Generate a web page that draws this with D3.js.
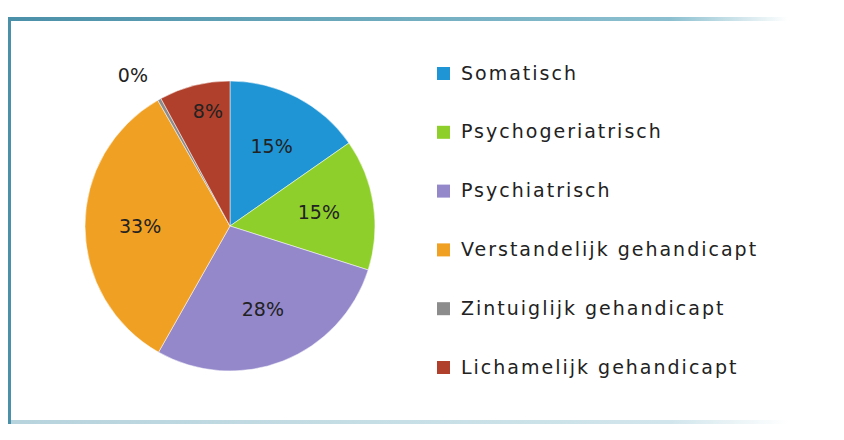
<!DOCTYPE html>
<html><head><meta charset="utf-8">
<script src="https://cdn.jsdelivr.net/npm/d3@7"></script>
<style>body{margin:0;background:#fff}</style></head>
<body><svg id="chart" width="844" height="440"></svg>
<script>
// chart data
var categories = ["Somatisch", "Psychogeriatrisch", "Psychiatrisch", "Verstandelijk gehandicapt", "Zintuiglijk gehandicapt", "Lichamelijk gehandicapt"];
var values = [15.3, 14.6, 28.3, 33.5, 0.4, 7.9];
var labels = ["15%", "15%", "28%", "33%", "0%", "8%"];
var colors = ["#1f95d5", "#8fcf2c", "#9488cb", "#f0a022", "#8c8c8c", "#b0402b"];

var svg = d3.select("#chart");

// frame
var grad = svg.append("defs").append("linearGradient").attr("id", "fade");
grad.append("stop").attr("offset", "0%").attr("stop-color", "#4a90a8");
grad.append("stop").attr("offset", "85%").attr("stop-color", "#8cc0d0");
grad.append("stop").attr("offset", "100%").attr("stop-color", "#fff");
svg.append("rect").attr("x", 8).attr("y", 17).attr("width", 780).attr("height", 4).attr("fill", "url(#fade)");
svg.append("rect").attr("x", 8).attr("y", 420).attr("width", 780).attr("height", 4).attr("fill", "url(#fade)").attr("opacity", 0.4);
svg.append("rect").attr("x", 8).attr("y", 17).attr("width", 3).attr("height", 407).attr("fill", "#4a90a8");

// pie
var cx = 230, cy = 226, r = 145;
var pie = d3.pie().sort(null).value(d => d);
var arc = d3.arc().innerRadius(0).outerRadius(r);
var arcs = pie(values);
var g = svg.append("g").attr("transform", "translate(" + cx + "," + cy + ")");
g.selectAll("path").data(arcs).enter().append("path")
    .attr("d", arc)
    .attr("fill", (d, i) => colors[i])
    .attr("stroke", "#fff").attr("stroke-width", 0.5);

var labelArc = d3.arc().innerRadius(r * 0.62).outerRadius(r * 0.62);
var outerArc = d3.arc().innerRadius(r * 1.12).outerRadius(r * 1.12);
g.selectAll("text").data(arcs).enter().append("text")
    .attr("transform", (d, i) => {
        var p = i == 4 ? outerArc.centroid(d) : labelArc.centroid(d);
        if (i == 4) { p[0] -= 18; p[1] -= 9; }
        if (i == 5) p[1] -= 28;
        return "translate(" + p + ")";
    })
    .attr("text-anchor", "middle").attr("dy", "0.35em")
    .attr("font-family", "DejaVu Sans").attr("font-size", 19).attr("fill", "#222")
    .text((d, i) => labels[i]);

// legend
var legend = svg.append("g").attr("transform", "translate(437,73)");
var items = legend.selectAll("g").data(categories).enter().append("g")
    .attr("transform", (d, i) => "translate(0," + i * 58.8 + ")");
items.append("rect").attr("x", 0).attr("y", -6).attr("width", 13).attr("height", 13)
    .attr("fill", (d, i) => colors[i]);
items.append("text").attr("x", 24).attr("dy", "0.35em")
    .attr("font-family", "DejaVu Sans").attr("font-size", 19).attr("fill", "#222")
    .attr("letter-spacing", 2)
    .text(d => d);
</script></body></html>
